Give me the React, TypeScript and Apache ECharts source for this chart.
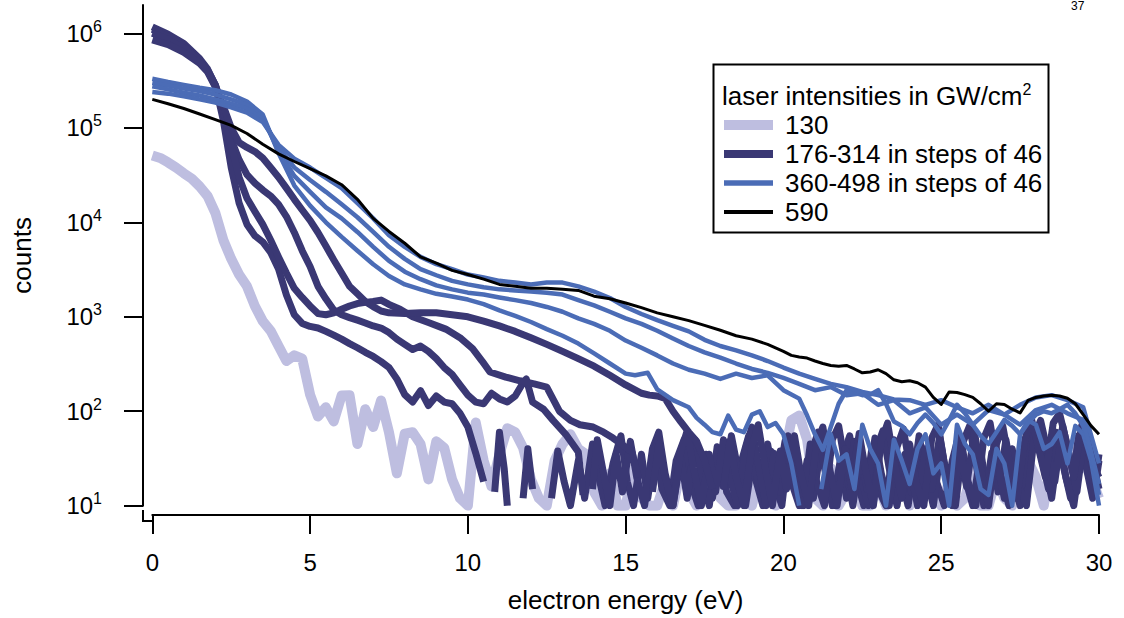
import { useEffect, useRef } from 'react';
import * as echarts from 'echarts';

type Pt = [number, number | null];

// x: electron energy (eV), y: counts
const energyTicks = [0, 5, 10, 15, 20, 25, 30];
const countTicks = [10, 100, 1000, 10000, 100000, 1000000];

const I130: Pt[] = [
  [0, 5.1e4], [0.25, 4.8e4], [0.5, 4.3e4], [0.75, 3.8e4], [1, 3.3e4], [1.25, 2.9e4], [1.5, 2.4e4], [1.75, 1.9e4],
  [2, 1.25e4], [2.25, 6.5e3], [2.5, 4.1e3], [2.75, 2.8e3], [3, 2.1e3], [3.25, 1.3e3], [3.5, 900], [3.75, 710],
  [4, 490], [4.25, 340], [4.5, 390], [4.75, 360], [5, 150], [5.25, 88], [5.5, 110], [5.75, 78], [6, 147],
  [6.25, 148], [6.5, 45], [6.75, 105], [7, 68], [7.25, 130], [7.5, 60], [7.75, 22], [8, 58], [8.25, 60],
  [8.5, 45], [8.75, 19], [9, 48], [9.25, 41], [9.5, 19], [9.75, 12], [10, 10], [10.25, 76], [10.5, 30],
  [10.75, 16], [11, 35], [11.25, 66], [11.5, 60], [11.75, 41], [12, 19], [12.25, 12], [12.5, 10], [12.75, 30],
  [13, 45], [13.25, 57], [13.5, 40], [13.75, 35], [14, 14], [14.25, 10], [14.5, 22], [14.75, 10], [15, 10],
  [15.25, 25], [15.5, 12], [15.75, 10], [16, 10], [16.25, 18], [16.5, 10], [16.75, 24], [17, 14], [17.25, 10],
  [17.5, 20], [17.75, 28], [18, 12], [18.25, 10], [18.5, 10], [18.75, 18], [19, 10], [19.25, 22], [19.5, 12],
  [19.75, 10], [20, 30], [20.25, 80], [20.5, 90], [20.75, 50], [21, 12], [21.25, 10], [21.5, 25], [21.75, 10],
  [22, 14], [22.25, 20], [22.5, 10], [22.75, 10], [23, 16], [23.25, 10], [23.5, 12], [23.75, 28], [24, 10],
  [24.25, 15], [24.5, 40], [24.75, 20], [25, 10], [25.25, 18], [25.5, 10], [25.75, 12], [26, 24], [26.25, 10],
  [26.5, 10], [26.75, 20], [27, 12], [27.25, 10], [27.5, 16], [27.75, 30], [28, 20], [28.25, 10], [28.5, 35],
  [28.75, 45], [29, 25], [29.25, 45], [29.5, 30], [29.75, 20], [30, 12],
];

const I176: Pt[] = [
  [0, 1.17e6], [0.5, 9.8e5], [1, 7.8e5], [1.5, 5.4e5], [1.75, 4.2e5], [2, 2.8e5], [2.25, 1.2e5], [2.5, 3.8e4],
  [2.75, 1.6e4], [3, 9.5e3], [3.25, 7.2e3], [3.5, 6.2e3], [3.75, 4.8e3], [4, 3.2e3], [4.25, 1.7e3], [4.5, 1.05e3],
  [4.75, 850], [5, 790], [5.25, 760], [5.5, 700], [5.75, 640], [6, 580], [6.25, 520], [6.5, 470], [6.75, 420],
  [7, 380], [7.25, 335], [7.5, 290], [7.75, 220], [8, 150], [8.25, 125], [8.5, 165], [8.75, 115], [9, 145],
  [9.25, 125], [9.5, 120], [9.75, 95], [10, 68], [10.25, 36], [10.5, 18], [10.6, null], [10.8, null], [10.85, 14],
  [11, 60], [11.15, 25], [11.25, 10], [11.35, null], [11.7, null], [11.75, 12], [11.9, 40], [12.05, 15], [12.2, null],
  [12.6, null], [12.65, 12], [12.85, 38], [13.05, 18], [13.25, 10], [13.5, 30], [13.7, 12], [13.95, 45], [14.15, 20],
  [14.35, 10], [14.6, 28], [14.85, 55], [15.05, 18], [15.25, 10], [15.5, 35], [15.7, 12], [15.95, 42], [16.15, 15],
  [16.4, 10], [16.6, 30], [16.85, 50], [17.05, 18], [17.3, 10], [17.55, 35], [17.75, 12], [18, 40], [18.2, 14],
  [18.45, 10], [18.7, 32], [18.9, 55], [19.1, 20], [19.35, 10], [19.6, 38], [19.8, 15], [20.05, 48], [20.25, 18],
  [20.5, 10], [20.75, 30], [20.95, 12], [21.2, 45], [21.4, 20], [21.65, 10], [21.9, 35], [22.1, 55], [22.3, 20],
  [22.55, 10], [22.8, 40], [23, 15], [23.25, 10], [23.5, 50], [23.7, 22], [23.95, 10], [24.2, 35], [24.4, 14],
  [24.65, 45], [24.85, 18], [25.1, 10], [25.35, 30], [25.55, 55], [25.75, 20], [26, 10], [26.25, 38], [26.45, 14],
  [26.7, 50], [26.9, 20], [27.15, 10], [27.4, 32], [27.6, 12], [27.85, 45], [28.05, 65], [28.25, 30], [28.5, 12],
  [28.75, 50], [28.95, 20], [29.2, 10], [29.45, 40], [29.65, 60], [29.85, 25], [30, 15],
];

const I222: Pt[] = [
  [0, 1.1e6], [0.5, 9.2e5], [1, 7.3e5], [1.5, 5.2e5], [1.75, 4.1e5], [2, 2.85e5], [2.25, 1.6e5], [2.5, 7.5e4],
  [2.75, 4.6e4], [3, 3.2e4], [3.25, 2.6e4], [3.5, 2.2e4], [3.75, 1.9e4], [4, 1.55e4], [4.25, 1.15e4], [4.5, 7.8e3],
  [4.75, 5.0e3], [5, 3.4e3], [5.25, 2.1e3], [5.5, 1.55e3], [5.75, 1.18e3], [6, 1.05e3], [6.25, 980], [6.5, 920],
  [6.75, 860], [7, 800], [7.25, 760], [7.5, 680], [7.75, 580], [8, 510], [8.25, 450], [8.5, 490], [8.75, 430],
  [9, 360], [9.25, 290], [9.5, 245], [9.75, 190], [10, 148], [10.25, 125], [10.5, 120], [10.75, 155], [11, 135],
  [11.25, 125], [11.5, 145], [11.75, 200], [11.85, 220], [12.05, 125], [12.4, 105], [12.7, 80], [13.1, 57],
  [13.5, 37], [13.65, 13], [13.7, null], [13.9, null], [13.95, 15], [14.1, 50], [14.3, 22], [14.5, 10], [14.7, 35],
  [14.9, 14], [15.15, 48], [15.35, 20], [15.6, 10], [15.85, 40], [16.05, 60], [16.25, 22], [16.5, 10], [16.75, 32],
  [16.95, 12], [17.2, 50], [17.4, 20], [17.65, 10], [17.9, 42], [18.1, 16], [18.35, 55], [18.55, 25], [18.8, 10],
  [19.05, 35], [19.25, 14], [19.5, 45], [19.7, 18], [19.95, 10], [20.2, 52], [20.4, 22], [20.65, 10], [20.9, 38],
  [21.1, 60], [21.3, 25], [21.55, 10], [21.8, 30], [22, 12], [22.25, 48], [22.45, 20], [22.7, 10], [22.95, 40],
  [23.15, 62], [23.35, 25], [23.6, 10], [23.85, 35], [24.05, 14], [24.3, 55], [24.5, 22], [24.75, 10], [25, 42],
  [25.2, 16], [25.45, 10], [25.7, 48], [25.9, 70], [26.1, 28], [26.35, 10], [26.6, 36], [26.8, 14], [27.05, 50],
  [27.25, 20], [27.5, 10], [27.75, 45], [27.95, 70], [28.15, 35], [28.4, 15], [28.65, 60], [28.85, 28], [29.1, 12],
  [29.35, 55], [29.55, 30], [29.8, 12], [30, 35],
];

const I268: Pt[] = [
  [0, 1.0e6], [0.5, 8.6e5], [1, 7.0e5], [1.5, 5.0e5], [1.75, 4.0e5], [2, 2.8e5], [2.25, 1.5e5], [2.5, 6.5e4],
  [2.75, 3.0e4], [3, 1.8e4], [3.25, 1.3e4], [3.5, 9.5e3], [3.75, 6.5e3], [4, 4.3e3], [4.25, 2.9e3], [4.5, 2.0e3],
  [4.75, 1.6e3], [5, 1.3e3], [5.25, 1.08e3], [5.5, 1.05e3], [5.75, 1.1e3], [6, 1.2e3], [6.25, 1.3e3], [6.5, 1.38e3],
  [6.75, 1.42e3], [7, 1.45e3], [7.25, 1.5e3], [7.5, 1.35e3], [7.85, 1.2e3], [8.25, 1.0e3], [8.75, 870], [9.3, 740],
  [9.75, 600], [10.15, 460], [10.45, 340], [10.7, 260], [11.2, 230], [11.65, 210], [12.1, 195], [12.5, 180],
  [12.9, 100], [13.25, 80], [13.55, 72], [13.97, 68], [14.3, 60], [14.6, 52], [14.9, 44], [15.2, 37], [15.4, 20],
  [15.5, null], [15.8, null], [15.85, 14], [16.05, 45], [16.25, 20], [16.5, 10], [16.75, 38], [16.95, 62],
  [17.15, 25], [17.4, 10], [17.65, 35], [17.85, 14], [18.1, 50], [18.3, 20], [18.55, 10], [18.8, 40], [19, 68],
  [19.2, 28], [19.45, 10], [19.7, 36], [19.9, 14], [20.15, 55], [20.35, 22], [20.6, 10], [20.85, 45], [21.05, 18],
  [21.3, 10], [21.55, 50], [21.75, 70], [21.95, 28], [22.2, 10], [22.45, 38], [22.65, 15], [22.9, 52], [23.1, 22],
  [23.35, 10], [23.6, 42], [23.8, 65], [24, 26], [24.25, 10], [24.5, 40], [24.7, 15], [24.95, 55], [25.15, 22],
  [25.4, 10], [25.65, 45], [25.85, 18], [26.1, 10], [26.35, 52], [26.55, 75], [26.75, 30], [27, 12], [27.25, 40],
  [27.45, 16], [27.7, 10], [27.95, 55], [28.15, 80], [28.35, 40], [28.6, 18], [28.85, 70], [29.05, 35], [29.3, 14],
  [29.55, 60], [29.75, 30], [30, 20],
];

const I314: Pt[] = [
  [0, 8.5e5], [0.5, 7.6e5], [1, 6.3e5], [1.5, 4.8e5], [1.75, 3.9e5], [2, 2.7e5], [2.25, 1.7e5], [2.5, 1.0e5],
  [2.75, 7.0e4], [3, 6.2e4], [3.25, 5.6e4], [3.5, 4.8e4], [3.75, 3.8e4], [4, 3.0e4], [4.25, 2.3e4], [4.5, 1.75e4],
  [4.75, 1.35e4], [5, 1.05e4], [5.25, 7.8e3], [5.5, 5.6e3], [5.75, 4.0e3], [6, 2.9e3], [6.25, 2.1e3], [6.5, 1.75e3],
  [6.75, 1.45e3], [7, 1.28e3], [7.25, 1.15e3], [7.5, 1.1e3], [8, 1.08e3], [8.5, 1.1e3], [9, 1.1e3], [9.5, 1.05e3],
  [10, 1.0e3], [10.5, 900], [11, 800], [11.5, 700], [12, 600], [12.5, 510], [13, 430], [13.5, 360], [14, 300],
  [14.5, 240], [15, 190], [15.5, 155], [15.75, 148], [16, 145], [16.25, 137], [16.5, 100], [16.75, 77], [17, 60],
  [17.25, 48], [17.5, 30], [17.75, 15], [17.85, null], [18.05, null], [18.1, 15], [18.3, 48], [18.5, 20],
  [18.75, 10], [19, 42], [19.2, 72], [19.4, 28], [19.65, 10], [19.9, 38], [20.1, 15], [20.35, 55], [20.55, 22],
  [20.8, 10], [21.05, 45], [21.25, 68], [21.45, 26], [21.7, 10], [21.95, 40], [22.15, 16], [22.4, 58], [22.6, 24],
  [22.85, 10], [23.1, 48], [23.3, 75], [23.5, 30], [23.75, 12], [24, 45], [24.2, 18], [24.45, 10], [24.7, 52],
  [24.9, 72], [25.1, 28], [25.35, 10], [25.6, 40], [25.8, 16], [26.05, 60], [26.25, 25], [26.5, 10], [26.75, 45],
  [26.95, 70], [27.15, 30], [27.4, 12], [27.65, 50], [27.85, 85], [28.05, 45], [28.3, 20], [28.55, 75], [28.75, 95],
  [28.95, 50], [29.2, 20], [29.45, 70], [29.65, 40], [29.9, 18], [30, 30],
];

const I360: Pt[] = [
  [0, 3.3e5], [0.5, 3.05e5], [1, 2.85e5], [1.5, 2.65e5], [2, 2.5e5], [2.5, 2.25e5], [3, 1.9e5], [3.5, 1.38e5],
  [4, 5.4e4], [4.5, 2.45e4], [5, 1.5e4], [5.5, 1.0e4], [6, 7.0e3], [6.5, 5.0e3], [7, 3.6e3], [7.5, 2.7e3],
  [8, 2.2e3], [8.5, 1.95e3], [9, 1.75e3], [9.5, 1.64e3], [10, 1.52e3], [10.5, 1.36e3], [11, 1.17e3], [11.5, 1.02e3],
  [12, 880], [12.5, 740], [13, 630], [13.5, 520], [14, 410], [14.5, 320], [15, 250], [15.3, 240], [15.7, 255],
  [16, 170], [16.5, 131], [17, 110], [17.25, 85], [17.5, 72], [17.75, 60], [18, 57], [18.25, 90], [18.5, 64],
  [18.75, 60], [19, 92], [19.25, 100], [19.5, 68], [19.75, 75], [20, 57], [20.25, 28], [20.5, 10], [20.75, null],
  [21.1, null], [21.2, 15], [21.5, 57], [21.75, 30], [22, 35], [22.25, 15], [22.5, 72], [22.75, 40], [23, 28],
  [23.25, 10], [23.5, 50], [23.75, 30], [24, 17], [24.25, 40], [24.5, 57], [24.75, 22], [25, 28], [25.25, 10],
  [25.5, 72], [25.75, 45], [26, 35], [26.25, 15], [26.5, 13], [26.75, 40], [27, 28], [27.25, 10], [27.5, 57],
  [27.75, 80], [28, 72], [28.25, 40], [28.5, 45], [28.75, 60], [29, 28], [29.25, 70], [29.5, 57], [29.75, 30], [30, 10],
];

const I406: Pt[] = [
  [0, 3.0e5], [0.5, 2.8e5], [1, 2.6e5], [1.5, 2.45e5], [2, 2.25e5], [2.5, 2.0e5], [3, 1.75e5], [3.5, 1.28e5],
  [4, 5.7e4], [4.5, 3.1e4], [5, 2.1e4], [5.5, 1.44e4], [6, 1.1e4], [6.5, 7.9e3], [7, 5.5e3], [7.5, 3.9e3],
  [8, 3.0e3], [8.5, 2.5e3], [9, 2.15e3], [9.5, 1.95e3], [10, 1.8e3], [10.5, 1.72e3], [11, 1.6e3], [11.5, 1.5e3],
  [12, 1.4e3], [12.5, 1.27e3], [13, 1.13e3], [13.5, 960], [14, 840], [14.5, 710], [15, 560], [15.5, 470],
  [16, 390], [16.5, 320], [17, 275], [17.5, 250], [18, 220], [18.5, 250], [19, 225], [19.5, 240], [20, 167],
  [20.5, 136], [20.75, 90], [21, 57], [21.25, 39], [21.5, 68], [21.75, 120], [22, 167], [22.5, 148], [22.75, 150],
  [23, 167], [23.25, 120], [23.5, 78], [23.75, 70], [24, 57], [24.25, 75], [24.5, 92], [24.75, 75], [25, 57],
  [25.25, 80], [25.5, 117], [25.75, 95], [26, 72], [26.25, 55], [26.5, 45], [26.75, 60], [27, 81], [27.25, 70],
  [27.5, 57], [27.75, 75], [28, 92], [28.25, 100], [28.5, 95], [28.75, 105], [29, 117], [29.25, 95], [29.5, 70],
  [29.75, 35], [30, 13],
];

const I452: Pt[] = [
  [0, 2.75e5], [0.5, 2.55e5], [1, 2.35e5], [1.5, 2.2e5], [2, 2.0e5], [2.5, 1.8e5], [3, 1.6e5], [3.5, 1.23e5],
  [4, 6.1e4], [4.5, 3.8e4], [5, 2.8e4], [5.5, 2.1e4], [6, 1.55e4], [6.5, 1.13e4], [7, 7.9e3], [7.5, 5.5e3],
  [8, 4.1e3], [8.5, 3.2e3], [9, 2.75e3], [9.5, 2.4e3], [10, 2.2e3], [10.5, 2.05e3], [11, 1.95e3], [11.5, 1.9e3],
  [12, 1.85e3], [12.5, 1.8e3], [13, 1.72e3], [13.5, 1.5e3], [14, 1.32e3], [14.5, 1.13e3], [15, 960], [15.5, 840],
  [16, 710], [16.5, 590], [17, 490], [17.5, 420], [18, 370], [18.5, 320], [19, 280], [19.5, 255], [20, 225],
  [20.5, 195], [21, 167], [21.5, 180], [22, 148], [22.5, 155], [23, 117], [23.5, 131], [24, 95], [24.5, 110],
  [25, 72], [25.5, 92], [26, 72], [26.5, 103], [27, 92], [27.5, 72], [28, 103], [28.5, 117], [29, 95], [29.5, 81], [30, 17],
];

const I498: Pt[] = [
  [0, 2.4e5], [0.5, 2.3e5], [1, 2.15e5], [1.5, 2.0e5], [2, 1.85e5], [2.5, 1.65e5], [3, 1.45e5], [3.5, 1.15e5],
  [4, 6.6e4], [4.5, 4.7e4], [5, 3.8e4], [5.5, 2.95e4], [6, 2.3e4], [6.5, 1.6e4], [7, 1.1e4], [7.5, 7.3e3],
  [8, 5.5e3], [8.5, 4.3e3], [9, 3.6e3], [9.5, 3.2e3], [10, 2.8e3], [10.5, 2.6e3], [11, 2.4e3], [11.5, 2.3e3],
  [12, 2.2e3], [12.5, 2.3e3], [13, 2.3e3], [13.5, 2.1e3], [14, 1.85e3], [14.5, 1.58e3], [15, 1.27e3], [15.5, 1.07e3],
  [16, 920], [16.5, 800], [17, 700], [17.5, 570], [18, 490], [18.5, 440], [19, 390], [19.5, 340], [20, 290],
  [20.5, 250], [21, 220], [21.5, 195], [22, 180], [22.5, 160], [23, 148], [23.5, 133], [24, 131], [24.5, 117],
  [25, 131], [25.5, 110], [26, 95], [26.5, 117], [27, 92], [27.5, 117], [28, 140], [28.5, 148], [29, 131], [29.5, 110], [30, 28],
];

const I590: Pt[] = [
  [0, 2.0e5], [0.5, 1.8e5], [1, 1.6e5], [1.5, 1.4e5], [2, 1.22e5], [2.5, 1.06e5], [3, 8.7e4], [3.5, 6.7e4],
  [4, 5.3e4], [4.5, 4.4e4], [5, 3.7e4], [5.5, 3.1e4], [6, 2.5e4], [6.5, 1.75e4], [7, 1.1e4], [7.5, 8.0e3],
  [8, 6.0e3], [8.5, 4.3e3], [9, 3.7e3], [9.5, 3.1e3], [10, 2.8e3], [10.5, 2.5e3], [11, 2.2e3], [11.5, 2.1e3],
  [12, 2.0e3], [12.5, 2.0e3], [13, 1.95e3], [13.5, 1.9e3], [14, 1.65e3], [14.5, 1.55e3], [15, 1.4e3], [15.5, 1.25e3],
  [16, 1.1e3], [16.5, 1.0e3], [17, 910], [17.5, 810], [18, 720], [18.5, 630], [19, 580], [19.5, 510], [20, 430],
  [20.25, 390], [20.5, 375], [20.75, 365], [21, 340], [21.25, 320], [21.5, 305], [21.75, 300], [22, 305],
  [22.25, 280], [22.5, 255], [22.75, 260], [23, 275], [23.25, 250], [23.5, 215], [23.75, 205], [24, 210],
  [24.25, 200], [24.5, 180], [24.75, 140], [25, 118], [25.25, 160], [25.5, 158], [25.75, 150], [26, 140],
  [26.25, 120], [26.5, 100], [26.75, 120], [27, 118], [27.25, 105], [27.5, 96], [27.75, 130], [28, 140],
  [28.25, 145], [28.5, 148], [28.75, 145], [29, 137], [29.25, 120], [29.5, 92], [29.75, 70], [30, 57],
];

const legendTitle = 'laser intensities in GW/cm';
const legendLabels = ['130', '176-314 in steps of 46', '360-498 in steps of 46', '590'];
const pageNumber = '37';

const LIGHT = '#bebee0';
const NAVY = '#3a3874';
const BLUE = '#4b6cb6';
const BLACK = '#000000';
const FONT = 'Liberation Sans, Arial, Helvetica, sans-serif';

const toData = (arr: Pt[]) => arr.map(([x, y]) => [x, y === null ? '-' : y]);

export default function App() {
  const ref = useRef<HTMLDivElement>(null);
  useEffect(() => {
    if (!ref.current) return;
    const chart = echarts.init(ref.current, null, { renderer: 'svg' });
    const mk = (name: string, arr: Pt[], color: string, width: number) => ({
      name,
      type: 'line',
      data: toData(arr),
      showSymbol: false,
      symbol: 'none',
      connectNulls: false,
      lineStyle: { color, width, join: 'round', cap: 'butt' },
      emphasis: { disabled: true },
    });
    const series = [
      mk('130', I130, LIGHT, 10),
      mk('176', I176, NAVY, 7),
      mk('222', I222, NAVY, 7),
      mk('268', I268, NAVY, 7),
      mk('314', I314, NAVY, 7),
      mk('360', I360, BLUE, 4.5),
      mk('406', I406, BLUE, 4.5),
      mk('452', I452, BLUE, 4.5),
      mk('498', I498, BLUE, 4.5),
      mk('590', I590, BLACK, 3),
    ];
    const legendYs = [125, 154, 183, 212];
    const legendColors = [LIGHT, NAVY, BLUE, BLACK];
    const legendWidths = [10, 8, 5.5, 4];
    const graphic: any[] = [
      {
        type: 'line',
        shape: { x1: 143, y1: 510, x2: 143, y2: 522 },
        style: { stroke: '#000', lineWidth: 2 },
      },
      {
        type: 'line',
        shape: { x1: 142, y1: 521, x2: 153, y2: 521 },
        style: { stroke: '#000', lineWidth: 2 },
      },
      {
        type: 'rect',
        shape: { x: 713.5, y: 64.5, width: 335, height: 168 },
        style: { fill: '#fff', stroke: '#000', lineWidth: 2 },
      },
      {
        type: 'text',
        x: 722,
        y: 96,
        style: {
          text: `{t|${legendTitle}}{s|2}`,
          verticalAlign: 'middle',
          rich: {
            t: { fontSize: 26, fontFamily: FONT, fill: '#000', lineHeight: 30 },
            s: { fontSize: 16, fontFamily: FONT, fill: '#000', verticalAlign: 'top', lineHeight: 16 },
          },
        },
      },
      {
        type: 'text',
        x: 1071,
        y: 0,
        style: { text: pageNumber, fontSize: 12, fontFamily: FONT, fill: '#000', verticalAlign: 'top' },
      },
    ];
    legendLabels.forEach((lab, i) => {
      graphic.push({
        type: 'line',
        shape: { x1: 724, y1: legendYs[i], x2: 773, y2: legendYs[i] },
        style: { stroke: legendColors[i], lineWidth: legendWidths[i] },
      });
      graphic.push({
        type: 'text',
        x: 785,
        y: legendYs[i],
        style: { text: lab, fontSize: 26, fontFamily: FONT, fill: '#000', verticalAlign: 'middle' },
      });
    });

    chart.setOption({
      animation: false,
      backgroundColor: '#fff',
      grid: { left: 152.3, right: 25, top: 5, bottom: 106.3, containLabel: false },
      xAxis: {
        type: 'value',
        min: 0,
        max: 30,
        interval: 5,
        offset: 9.3,
        name: 'electron energy (eV)',
        nameLocation: 'middle',
        nameGap: 72,
        nameTextStyle: { fontSize: 26, fontFamily: FONT, color: '#000' },
        axisLine: { show: true, onZero: false, lineStyle: { color: '#000', width: 2 } },
        axisTick: {
          show: true,
          inside: false,
          length: 19,
          lineStyle: { color: '#000', width: 2 },
          customValues: energyTicks,
        },
        axisLabel: { customValues: energyTicks, fontSize: 24, fontFamily: FONT, color: '#000', margin: 35 },
        splitLine: { show: false },
      },
      yAxis: {
        type: 'log',
        logBase: 10,
        min: 10,
        max: Math.pow(10, 6.3),
        offset: 9.3,
        name: 'counts',
        nameLocation: 'middle',
        nameGap: 108,
        nameRotate: 90,
        nameTextStyle: { fontSize: 26, fontFamily: FONT, color: '#000' },
        axisLine: { show: true, onZero: false, lineStyle: { color: '#000', width: 2 } },
        axisTick: {
          show: true,
          inside: false,
          length: 19,
          lineStyle: { color: '#000', width: 2 },
          customValues: countTicks,
        },
        axisLabel: {
          customValues: countTicks,
          margin: 41,
          formatter: (v: number) => `{b|10}{e|${Math.round(Math.log10(v))}}`,
          rich: {
            b: { fontSize: 24, fontFamily: FONT, color: '#000', lineHeight: 30 },
            e: { fontSize: 16, fontFamily: FONT, color: '#000', verticalAlign: 'top', lineHeight: 16 },
          },
        },
        splitLine: { show: false },
        minorTick: { show: false },
      },
      series,
      graphic,
    } as any);
    return () => chart.dispose();
  }, []);
  return (
    <div
      ref={ref}
      style={{ position: 'fixed', left: 0, top: 0, width: 1124, height: 618, background: '#fff' }}
    />
  );
}
